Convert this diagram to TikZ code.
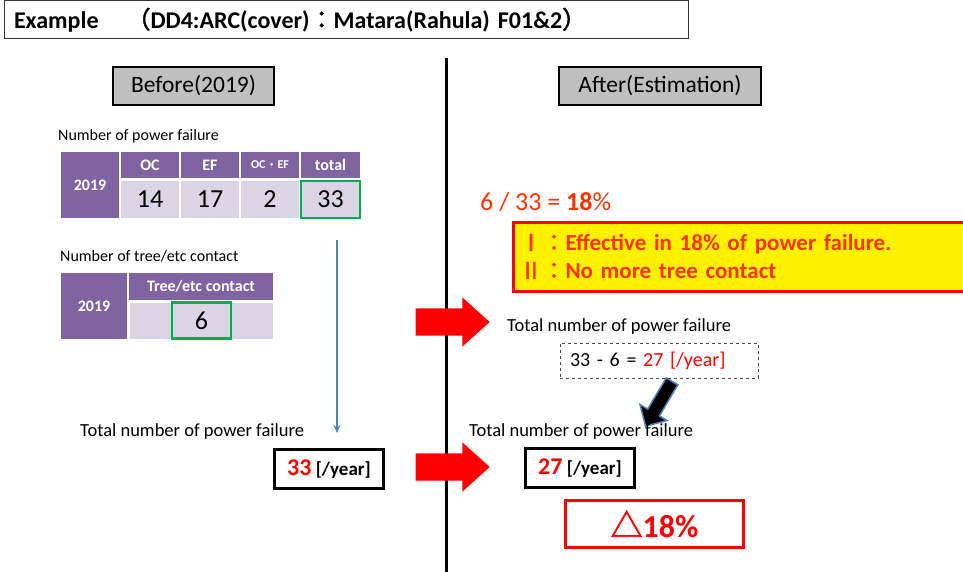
\documentclass[tikz,border=0pt]{standalone}
\usepackage{fontspec}
\setmainfont{Carlito}
\newfontfamily\cjk[AutoFakeBold=2]{Noto Sans CJK JP}
\usetikzlibrary{shapes}
\usetikzlibrary{shapes.arrows}
\usetikzlibrary{arrows.meta}
\definecolor{tpurple}{HTML}{8064A2}
\definecolor{tlav}{HTML}{D9D5E5}
\definecolor{tgreen}{HTML}{00B050}
\definecolor{tred}{HTML}{FF0000}
\definecolor{torange}{HTML}{FF3300}
\definecolor{tblue}{HTML}{4F81BD}
\tikzset{
    cellh/.style = {rectangle, fill=tpurple, inner sep=0pt, text=white, font=\bfseries\fontsize{16}{16}\selectfont},
    celld/.style = {rectangle, fill=tlav, inner sep=0pt, text=black, font=\fontsize{26}{26}\selectfont},
    cellg/.style = {draw=tgreen, line width=2.5pt},
    boxt/.style = {rectangle, draw=black!80, line width=1pt, inner xsep=10pt, font=\bfseries\fontsize{24}{24}\selectfont},
    boxh/.style = {rectangle, draw=black, line width=2pt, fill=gray!50, font=\fontsize{23.5}{23.5}\selectfont},
    boxk/.style = {rectangle, draw=black, line width=3pt, inner sep=0pt, font=\bfseries\fontsize{19}{19}\selectfont},
    boxr/.style = {rectangle, draw=tred, line width=3pt, inner sep=0pt, text=tred, font=\bfseries\fontsize{32}{32}\selectfont},
    boxy/.style = {rectangle, draw=tred, line width=3pt, fill=yellow, text=torange, align=left, inner xsep=6pt, font=\bfseries\fontsize{23}{28}\selectfont},
    boxd/.style = {rectangle, draw=black!70, dashed, line width=0.8pt, align=left, inner xsep=10pt, font=\fontsize{20}{20}\selectfont},
    txt/.style = {anchor=west, inner sep=0pt, font=\fontsize{18.5}{18.5}\selectfont},
    arrowr/.style = {single arrow, fill=tred, inner xsep=0pt, inner ysep=13.5pt, minimum height=74pt, minimum width=49pt, single arrow head extend=11pt, single arrow tip angle=84, anchor=tip},
    arrowk/.style = {single arrow, fill=black, draw=tblue, line width=1.5pt, inner xsep=0pt, inner ysep=6pt, minimum height=52pt, minimum width=30pt, single arrow head extend=9pt, anchor=tip},
    edgeb/.style = {-{Stealth[length=8pt,width=7pt]}, line width=2pt, tblue}
}

\begin{document}
\begin{tikzpicture}[x=1pt,y=-1pt]
\useasboundingbox (0,0) rectangle (963,572);

\node[boxt, minimum width=682pt, minimum height=38pt, text width=664pt, align=left] at (346,20) (title)
  {Example\hspace{28pt}{\cjk （}DD4:ARC(cover){\cjk ：}Matara(Rahula) F01\&2{\cjk ）}};

% divider
\draw[line width=3pt] (446,58) -- (446,572);

\node[boxh, minimum width=161pt, minimum height=38pt] at (193.5,86) (before) {Before(2019)};
\node[boxh, minimum width=202pt, minimum height=38pt] at (660,86) (after) {After(Estimation)};

% power failure table
\node[txt, font=\fontsize{16}{16}\selectfont] at (58,136) (t1) {Number of power failure};
\node[cellh, minimum width=58pt, minimum height=66pt] at (90,185) (y1) {2019};
\node[cellh, minimum width=58pt, minimum height=26pt] at (150,165) (oc) {OC};
\node[cellh, minimum width=58pt, minimum height=26pt] at (210,165) (ef) {EF};
\node[cellh, minimum width=58pt, minimum height=26pt, font=\bfseries\fontsize{12}{12}\selectfont] at (270,165) (ocef) {OC{\cjk ・}EF};
\node[cellh, minimum width=59pt, minimum height=26pt] at (330.5,165) (tot) {total};
\node[celld, minimum width=58pt, minimum height=37pt] at (150,199.5) (voc) {14};
\node[celld, minimum width=58pt, minimum height=37pt] at (210,199.5) (vef) {17};
\node[celld, minimum width=58pt, minimum height=37pt] at (270,199.5) (vocef) {2};
\node[celld, cellg, minimum width=59pt, minimum height=37pt] at (330.5,199.5) (vtot) {33};

% tree contact table
\node[txt, font=\fontsize{16}{16}\selectfont] at (60,256) (t2) {Number of tree/etc contact};
\node[cellh, minimum width=66pt, minimum height=66pt] at (94,306) (y2) {2019};
\node[cellh, minimum width=144pt, minimum height=27pt] at (201,286.5) (tree) {Tree/etc contact};
\node[celld, minimum width=41pt, minimum height=36pt] at (150.5,321) (vl) {};
\node[celld, minimum width=41pt, minimum height=36pt] at (252.5,321) (vr) {};
\node[celld, cellg, minimum width=59pt, minimum height=36pt] at (201.5,320.5) (vtree) {6};

\coordinate (bt) at (337,240);
\coordinate (bb) at (337,433);
\draw[edgeb] (bt) -- (bb);

\node[txt] at (80,432) (t3) {Total number of power failure};
\node[boxk, minimum width=109pt, minimum height=39pt] at (329,469) (n33) {\textcolor{tred}{\fontsize{24}{24}\selectfont 33} [/year]};

% after
\node[txt, text=torange, font=\fontsize{26}{26}\selectfont] at (480,202) (ratio) {6 / 33 = \textbf{18}\%};
\node[boxy, minimum width=452pt, minimum height=69pt, text width=440pt, anchor=west] at (512,256.5) (eff)
  {{\cjk Ⅰ}{\cjk ：}Effective in 18\% of power failure.\\{\cjk Ⅱ}{\cjk ：}No more tree contact};

\node[arrowr] at (490,322) (ar1) {};
\node[arrowr] at (490,467) (ar2) {};

\node[txt] at (507,327) (t4) {Total number of power failure};
\node[boxd, minimum width=198pt, minimum height=35pt, text width=178pt] at (659,360.5) (calc) {33 - 6 = \textcolor{tred}{27 [/year]}};
\node[arrowk, rotate=-120.6] at (645,427) (dn) {};

\node[txt] at (469,432) (t5) {Total number of power failure};
\node[boxk, minimum width=109pt, minimum height=39pt] at (580,468) (n27) {\textcolor{tred}{\fontsize{24}{24}\selectfont 27} [/year]};
\node[boxr, minimum width=178pt, minimum height=47pt] at (654.5,524) (drop) {{\cjk △}18\%};

\end{tikzpicture}
\end{document}
